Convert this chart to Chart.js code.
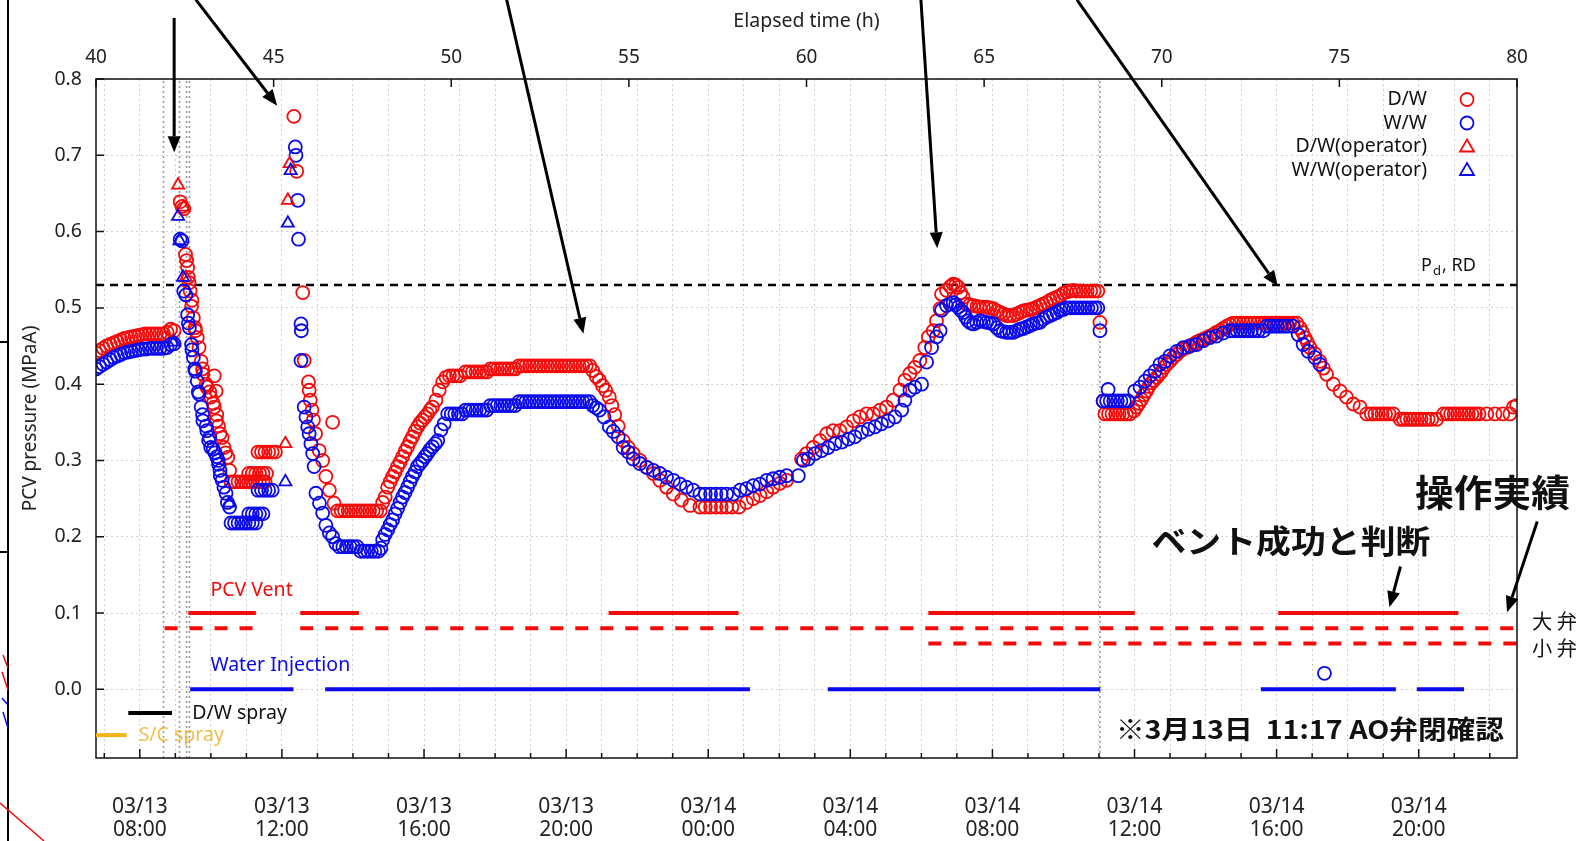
<!DOCTYPE html>
<html>
<head>
<meta charset="utf-8">
<script src="https://cdn.jsdelivr.net/npm/chart.js@4.4.1/dist/chart.umd.min.js"></script>
<style>
  html, body { margin: 0; padding: 0; background: #fff; overflow: hidden; }
  #c { display: block; }
</style>
</head>
<body>
<canvas id="c" width="1588" height="841" style="width:1588px;height:841px"></canvas>
<script>
// elapsed time (h), PCV pressure (MPaA)
const dwCircles = [
  [40.0,0.441],[40.1,0.444],[40.2,0.447],[40.3,0.45],[40.4,0.452],[40.5,0.454],[40.6,0.456],[40.7,0.458],[40.8,0.46],[40.9,0.461],
  [41.0,0.462],[41.1,0.463],[41.2,0.464],[41.3,0.465],[41.4,0.466],[41.5,0.466],[41.6,0.466],[41.7,0.466],[41.8,0.466],[41.9,0.466],
  [42.0,0.468],[42.1,0.472],[42.2,0.47],
  [42.37,0.639],[42.42,0.633],[42.47,0.63],[42.52,0.57],[42.55,0.562],[42.58,0.553],[42.6,0.54],[42.62,0.533],[42.65,0.522],
  [42.69,0.502],[42.7,0.51],[42.74,0.487],[42.79,0.474],[42.8,0.47],[42.85,0.461],[42.9,0.448],[42.96,0.43],[43.0,0.42],[43.01,0.413],
  [43.1,0.4],[43.12,0.396],[43.2,0.39],[43.23,0.383],[43.3,0.375],[43.33,0.37],[43.33,0.411],[43.38,0.391],[43.39,0.352],[43.4,0.36],
  [43.45,0.345],[43.49,0.335],[43.55,0.33],[43.6,0.317],[43.65,0.31],[43.71,0.304],[43.76,0.287],
  [43.8,0.272],[43.9,0.272],[44.0,0.272],[44.1,0.272],[44.2,0.272],[44.3,0.272],[44.4,0.272],[44.5,0.272],[44.6,0.272],[44.7,0.272],[44.76,0.272],
  [44.3,0.283],[44.4,0.283],[44.5,0.283],[44.6,0.283],[44.7,0.283],[44.8,0.283],
  [44.56,0.311],[44.66,0.311],[44.76,0.311],[44.86,0.311],[44.96,0.311],[45.05,0.311],
  [45.57,0.751],[45.65,0.679],[45.82,0.52],[45.86,0.431],[45.98,0.403],[46.0,0.392],[46.03,0.379],[46.08,0.366],[46.12,0.353],
  [46.18,0.335],[46.28,0.313],[46.38,0.3],[46.47,0.279],[46.57,0.261],[46.66,0.35],[46.7,0.244],
  [46.8,0.234],[46.9,0.234],[47.0,0.234],[47.1,0.234],[47.2,0.234],[47.3,0.234],[47.4,0.234],[47.5,0.234],[47.6,0.234],[47.7,0.234],
  [47.8,0.234],[47.9,0.234],[48.0,0.234],
  [48.07,0.245],[48.14,0.252],[48.21,0.265],[48.28,0.272],[48.35,0.279],[48.42,0.285],[48.49,0.292],[48.56,0.298],[48.63,0.305],
  [48.7,0.312],[48.77,0.318],[48.84,0.325],[48.91,0.331],[48.98,0.338],[49.05,0.344],[49.12,0.349],[49.19,0.353],[49.26,0.357],
  [49.33,0.361],[49.4,0.366],[49.47,0.37],[49.57,0.379],[49.66,0.392],[49.76,0.403],[49.85,0.409],
  [49.95,0.411],[50.05,0.411],[50.15,0.411],[50.25,0.411],
  [50.4,0.416],[50.5,0.416],[50.6,0.416],[50.7,0.416],[50.8,0.416],[50.9,0.416],[51.0,0.416],
  [51.1,0.42],[51.2,0.42],[51.3,0.42],[51.4,0.42],[51.5,0.42],[51.6,0.42],[51.7,0.42],[51.8,0.42],
  [51.9,0.424],[52.0,0.424],[52.1,0.424],[52.2,0.424],[52.3,0.424],[52.4,0.424],[52.5,0.424],[52.6,0.424],[52.7,0.424],[52.8,0.424],
  [52.9,0.424],[53.0,0.424],[53.1,0.424],[53.2,0.424],[53.3,0.424],[53.4,0.424],[53.5,0.424],[53.6,0.424],[53.7,0.424],[53.8,0.424],[53.9,0.424],
  [53.98,0.418],[54.08,0.41],[54.17,0.405],[54.26,0.398],[54.35,0.392],[54.45,0.383],[54.52,0.372],[54.6,0.36],[54.7,0.345],
  [54.84,0.326],[54.98,0.317],[55.12,0.309],[55.31,0.3],[55.5,0.291],[55.69,0.283],[55.87,0.274],[56.06,0.265],[56.25,0.256],
  [56.48,0.248],[56.72,0.241],[57.0,0.239],[57.15,0.239],[57.3,0.239],[57.45,0.239],[57.6,0.239],[57.75,0.239],[57.9,0.239],[58.1,0.239],
  [58.31,0.245],[58.5,0.25],[58.69,0.254],[58.88,0.259],[59.06,0.265],[59.25,0.27],[59.44,0.274],
  [59.86,0.302],[60.0,0.309],[60.19,0.317],[60.38,0.326],[60.57,0.335],[60.75,0.339],[60.94,0.339],[61.13,0.344],[61.32,0.352],
  [61.5,0.357],[61.69,0.361],[61.88,0.361],[62.07,0.366],[62.25,0.37],[62.44,0.379],[62.63,0.392],[62.77,0.405],[62.91,0.414],
  [63.05,0.422],[63.19,0.431],[63.33,0.448],[63.43,0.462],[63.57,0.47],[63.66,0.483],[63.76,0.499],[63.8,0.518],[63.94,0.523],
  [64.05,0.528],[64.13,0.531],[64.2,0.53],[64.27,0.527],[64.34,0.52],[64.41,0.514],[64.51,0.505],[64.6,0.504],[64.7,0.503],
  [64.8,0.502],[64.88,0.501],[64.98,0.501],[65.07,0.501],[65.16,0.5],[65.26,0.499],[65.36,0.496],[65.45,0.494],[65.54,0.492],
  [65.63,0.49],[65.72,0.49],[65.82,0.49],[65.92,0.492],[66.01,0.494],[66.1,0.496],[66.2,0.497],[66.3,0.498],[66.38,0.499],
  [66.48,0.501],[66.57,0.503],[66.66,0.505],[66.76,0.507],[66.86,0.51],[66.95,0.512],[67.05,0.514],[67.14,0.516],[67.23,0.519],
  [67.32,0.521],[67.42,0.522],[67.51,0.523],[67.6,0.522],[67.7,0.522],[67.8,0.522],[67.9,0.522],[68.0,0.522],[68.1,0.522],[68.2,0.522],
  [68.26,0.481],
  [68.35,0.378],[68.4,0.361],[68.5,0.361],[68.6,0.361],[68.7,0.361],[68.8,0.361],[68.9,0.361],[69.0,0.361],[69.1,0.361],
  [69.22,0.365],[69.29,0.37],[69.36,0.375],[69.43,0.38],[69.5,0.386],[69.57,0.391],[69.64,0.397],[69.71,0.402],[69.78,0.405],
  [69.86,0.409],[69.93,0.413],[70.0,0.417],[70.07,0.422],[70.14,0.426],[70.23,0.43],[70.32,0.435],[70.42,0.439],[70.51,0.443],
  [70.6,0.446],[70.7,0.448],[70.8,0.45],[70.89,0.452],[70.98,0.455],[71.07,0.457],[71.17,0.459],[71.26,0.461],[71.36,0.463],
  [71.45,0.465],[71.54,0.468],[71.64,0.47],[71.73,0.473],[71.83,0.476],[71.92,0.478],[72.01,0.48],
  [72.1,0.48],[72.2,0.48],[72.3,0.48],[72.4,0.48],[72.5,0.48],[72.6,0.48],[72.7,0.48],[72.8,0.48],[72.9,0.48],[73.0,0.48],
  [73.1,0.48],[73.2,0.48],[73.3,0.48],[73.4,0.48],[73.5,0.48],[73.6,0.48],[73.7,0.48],[73.8,0.48],
  [73.89,0.474],[73.96,0.468],[74.03,0.461],[74.1,0.455],[74.17,0.448],[74.31,0.44],[74.45,0.43],[74.55,0.421],[74.64,0.413],
  [74.83,0.4],[75.02,0.391],[75.2,0.383],[75.39,0.374],[75.58,0.37],[75.77,0.361],[75.9,0.361],[76.0,0.361],[76.1,0.361],
  [76.2,0.361],[76.3,0.361],[76.4,0.361],[76.52,0.361],[76.71,0.354],[76.8,0.354],[76.9,0.354],[77.0,0.354],[77.1,0.354],
  [77.2,0.354],[77.3,0.354],[77.4,0.354],[77.5,0.354],[77.6,0.354],[77.74,0.354],[77.93,0.361],[78.03,0.361],[78.13,0.361],
  [78.23,0.361],[78.33,0.361],[78.43,0.361],[78.53,0.361],[78.63,0.361],[78.73,0.361],[78.83,0.361],[78.93,0.361],[79.15,0.361],
  [79.38,0.361],[79.6,0.361],[79.8,0.361],[79.9,0.37],[79.99,0.372]
];
const wwCircles = [
  [40.0,0.42],[40.1,0.423],[40.2,0.426],[40.3,0.429],[40.4,0.432],[40.5,0.435],[40.6,0.437],[40.7,0.439],[40.8,0.441],[40.9,0.442],
  [41.0,0.443],[41.1,0.444],[41.2,0.445],[41.3,0.446],[41.4,0.446],[41.5,0.447],[41.6,0.447],[41.7,0.447],[41.8,0.447],[41.9,0.447],
  [42.0,0.448],[42.1,0.452],[42.2,0.453],
  [42.37,0.59],[42.42,0.588],[42.47,0.522],[42.53,0.517],[42.58,0.491],[42.6,0.48],[42.63,0.474],[42.69,0.452],[42.7,0.445],
  [42.74,0.435],[42.78,0.42],[42.8,0.417],[42.85,0.404],[42.88,0.39],[42.9,0.387],[42.96,0.37],[43.0,0.36],[43.01,0.352],
  [43.1,0.345],[43.12,0.339],[43.17,0.326],[43.2,0.33],[43.23,0.317],[43.3,0.315],[43.35,0.31],[43.4,0.305],[43.44,0.3],
  [43.45,0.295],[43.49,0.287],[43.5,0.28],[43.55,0.274],[43.6,0.265],[43.66,0.257],[43.7,0.245],[43.76,0.239],
  [43.8,0.218],[43.9,0.218],[44.0,0.218],[44.1,0.218],[44.2,0.218],[44.3,0.218],[44.4,0.218],[44.5,0.218],
  [44.3,0.23],[44.4,0.23],[44.5,0.23],[44.6,0.23],[44.7,0.23],
  [44.56,0.261],[44.66,0.261],[44.76,0.261],[44.86,0.261],[44.96,0.261],
  [45.61,0.711],[45.63,0.7],[45.68,0.641],[45.7,0.59],[45.77,0.479],[45.78,0.47],[45.77,0.431],[45.86,0.37],[45.91,0.357],
  [45.96,0.344],[46.0,0.335],[46.05,0.322],[46.1,0.309],[46.14,0.292],[46.19,0.257],[46.29,0.244],[46.38,0.231],[46.47,0.215],
  [46.57,0.205],[46.66,0.2],[46.75,0.191],
  [46.85,0.187],[46.95,0.187],[47.05,0.187],[47.15,0.187],[47.25,0.187],[47.35,0.187],
  [47.45,0.181],[47.55,0.181],[47.65,0.181],[47.75,0.181],[47.85,0.181],[47.95,0.181],[48.02,0.185],
  [48.07,0.196],[48.14,0.203],[48.21,0.209],[48.28,0.216],[48.35,0.222],[48.42,0.23],[48.49,0.237],[48.56,0.245],[48.63,0.252],
  [48.7,0.258],[48.77,0.265],[48.84,0.272],[48.91,0.279],[48.98,0.285],[49.05,0.292],[49.12,0.296],[49.19,0.3],[49.26,0.305],
  [49.33,0.309],[49.4,0.314],[49.47,0.318],[49.55,0.322],[49.62,0.326],[49.71,0.34],[49.8,0.348],[49.9,0.361],
  [50.0,0.361],[50.1,0.361],[50.2,0.361],[50.3,0.361],
  [50.4,0.366],[50.5,0.366],[50.6,0.366],[50.7,0.366],[50.8,0.366],[50.9,0.366],[51.0,0.366],
  [51.1,0.372],[51.2,0.372],[51.3,0.372],[51.4,0.372],[51.5,0.372],[51.6,0.372],[51.7,0.372],[51.8,0.372],
  [51.9,0.377],[52.0,0.377],[52.1,0.377],[52.2,0.377],[52.3,0.377],[52.4,0.377],[52.5,0.377],[52.6,0.377],[52.7,0.377],[52.8,0.377],
  [52.9,0.377],[53.0,0.377],[53.1,0.377],[53.2,0.377],[53.3,0.377],[53.4,0.377],[53.5,0.377],[53.6,0.377],[53.7,0.377],[53.8,0.377],[53.9,0.377],
  [53.98,0.372],[54.08,0.369],[54.17,0.366],[54.3,0.357],[54.45,0.344],[54.56,0.338],[54.7,0.331],[54.84,0.317],[54.98,0.311],
  [55.12,0.302],[55.31,0.296],[55.5,0.291],[55.69,0.287],[55.87,0.283],[56.06,0.278],[56.25,0.274],[56.44,0.269],[56.62,0.265],
  [56.81,0.261],[57.0,0.256],[57.15,0.256],[57.3,0.256],[57.45,0.256],[57.6,0.256],[57.75,0.256],[57.94,0.256],
  [58.13,0.261],[58.31,0.263],[58.5,0.267],[58.69,0.269],[58.88,0.274],[59.06,0.276],[59.25,0.278],[59.44,0.28],[59.77,0.28],
  [59.91,0.3],[60.05,0.302],[60.24,0.309],[60.43,0.313],[60.61,0.317],[60.8,0.322],[60.99,0.324],[61.18,0.328],[61.36,0.331],
  [61.55,0.337],[61.74,0.341],[61.93,0.344],[62.11,0.348],[62.3,0.352],[62.49,0.357],[62.68,0.366],[62.77,0.379],[62.91,0.392],
  [63.05,0.396],[63.24,0.4],[63.38,0.429],[63.52,0.448],[63.66,0.462],[63.76,0.47],[63.8,0.497],[63.94,0.503],[64.04,0.505],
  [64.13,0.507],[64.2,0.504],[64.27,0.501],[64.34,0.497],[64.41,0.494],[64.48,0.488],[64.55,0.483],[64.62,0.48],[64.7,0.479],
  [64.79,0.481],[64.88,0.483],[64.98,0.482],[65.07,0.481],[65.16,0.48],[65.26,0.479],[65.36,0.474],[65.45,0.47],[65.54,0.469],
  [65.63,0.468],[65.72,0.468],[65.82,0.468],[65.92,0.47],[66.01,0.472],[66.1,0.473],[66.2,0.475],[66.3,0.477],[66.38,0.479],
  [66.48,0.48],[66.57,0.481],[66.66,0.485],[66.76,0.488],[66.86,0.49],[66.95,0.492],[67.05,0.494],[67.14,0.497],[67.23,0.498],
  [67.32,0.5],[67.42,0.5],[67.52,0.5],[67.62,0.5],[67.72,0.5],[67.82,0.5],[67.92,0.5],[68.02,0.5],[68.12,0.5],[68.2,0.5],
  [68.26,0.47],
  [68.35,0.378],[68.49,0.393],[68.45,0.378],[68.55,0.378],[68.65,0.378],[68.75,0.378],[68.85,0.378],[68.95,0.378],[69.05,0.378],
  [69.24,0.391],[69.39,0.396],[69.53,0.404],[69.67,0.411],[69.81,0.417],[69.95,0.426],[70.09,0.43],[70.23,0.437],[70.42,0.443],
  [70.61,0.448],[70.79,0.45],[70.98,0.452],[71.17,0.457],[71.36,0.461],[71.54,0.463],[71.73,0.467],[71.92,0.47],
  [72.02,0.47],[72.12,0.47],[72.22,0.47],[72.32,0.47],[72.42,0.47],[72.52,0.47],[72.62,0.47],[72.72,0.47],[72.86,0.47],
  [72.95,0.476],[73.05,0.476],[73.15,0.476],[73.25,0.476],[73.35,0.476],[73.45,0.476],[73.55,0.476],[73.7,0.476],
  [73.84,0.465],[73.98,0.452],[74.12,0.443],[74.31,0.435],[74.45,0.426],
  [74.58,0.021]
];
const dwOperator = [[42.31,0.661],[42.47,0.632],[42.53,0.54],[45.33,0.322],[45.4,0.641],[45.45,0.689]];
const wwOperator = [[42.2,0.455],[42.31,0.62],[42.35,0.588],[42.45,0.54],[43.75,0.244],[45.33,0.272],[45.4,0.611],[45.48,0.68]];

// operation periods (h)
const pcvVent = [[42.6,44.5],[45.75,47.4],[54.43,58.09],[63.43,69.24],[73.28,78.35]];
const largeValve = [[41.93,44.45],[45.75,80]];
const smallValve = [[63.43,80]];
const waterInjection = [[42.65,45.56],[46.45,58.41],[60.6,68.27],[72.79,76.59],[77.18,78.51]];
const eventLines = [41.9, 42.35, 42.55, 42.63, 68.26];
const PD_RD = 0.53;

const topTicks = [40, 45, 50, 55, 60, 65, 70, 75, 80];
const yTicks = [0, 0.1, 0.2, 0.3, 0.4, 0.5, 0.6, 0.7, 0.8];
// elapsed 40 h = 03/13 06:46, so full clock hours sit 14 min later
const HOUR_OFFSET = 14 / 60;
const dateTicks = [
  [41.2333, '03/13', '08:00'], [45.2333, '03/13', '12:00'], [49.2333, '03/13', '16:00'], [53.2333, '03/13', '20:00'],
  [57.2333, '03/14', '00:00'], [61.2333, '03/14', '04:00'], [65.2333, '03/14', '08:00'], [69.2333, '03/14', '12:00'],
  [73.2333, '03/14', '16:00'], [77.2333, '03/14', '20:00']
];

const RED = 'rgb(245,10,10)';
const BLUE = 'rgb(10,10,235)';
const FONT = "'Noto Sans', 'DejaVu Sans', sans-serif";
const JP = "'Noto Sans CJK JP', sans-serif";

const hourTicks = [];
for (let h = 40 + HOUR_OFFSET; h < 80; h += 1) hourTicks.push(+h.toFixed(4));

function pts(a) { return a.map(([x, y]) => ({ x: x, y: y })); }

function segments(list, y, color, dash, width, order) {
  return list.map(([a, b]) => ({
    type: 'line', data: [{ x: a, y: y }, { x: b, y: y }],
    borderColor: color, borderWidth: width, borderDash: dash, borderCapStyle: 'butt',
    pointRadius: 0, showLine: true, order: order
  }));
}

const datasets = [];
datasets.push({ label: 'W/W', data: pts(wwCircles), pointStyle: 'circle', pointRadius: 6.5, pointBorderWidth: 1.8,
  borderColor: BLUE, backgroundColor: 'rgba(0,0,0,0)', order: 1 });
datasets.push({ label: 'D/W', data: pts(dwCircles), pointStyle: 'circle', pointRadius: 6.5, pointBorderWidth: 1.8,
  borderColor: RED, backgroundColor: 'rgba(0,0,0,0)', order: 2 });
datasets.push({ label: 'W/W(operator)', data: pts(wwOperator), pointStyle: 'triangle', pointRadius: 7, pointBorderWidth: 1.8,
  borderColor: BLUE, backgroundColor: 'rgba(0,0,0,0)', order: 0 });
datasets.push({ label: 'D/W(operator)', data: pts(dwOperator), pointStyle: 'triangle', pointRadius: 7, pointBorderWidth: 1.8,
  borderColor: RED, backgroundColor: 'rgba(0,0,0,0)', order: 0 });
segments(pcvVent, 0.1, RED, [], 4, 5).forEach(d => datasets.push(d));
segments(largeValve, 0.08, RED, [13, 12], 4, 5).forEach(d => datasets.push(d));
segments(smallValve, 0.06, RED, [13, 12], 4, 5).forEach(d => datasets.push(d));
segments(waterInjection, 0, BLUE, [], 4, 5).forEach(d => datasets.push(d));
segments([[40, 80]], PD_RD, '#000', [8, 6], 2.4, 6).forEach(d => datasets.push(d));
eventLines.forEach(h => datasets.push({
  type: 'line', data: [{ x: h, y: -0.09 }, { x: h, y: 0.8 }], borderColor: '#9a9a9a', borderWidth: 1.6,
  borderDash: [2, 3], pointRadius: 0, showLine: true, order: 7
}));

function arrow(ctx, x1, y1, x2, y2) {
  const ang = Math.atan2(y2 - y1, x2 - x1);
  const L = 16, W = 6.5;
  const bx = x2 - L * Math.cos(ang), by = y2 - L * Math.sin(ang);
  ctx.beginPath(); ctx.moveTo(x1, y1); ctx.lineTo(bx, by); ctx.stroke();
  ctx.beginPath();
  ctx.moveTo(x2, y2);
  ctx.lineTo(bx + W * Math.sin(ang), by - W * Math.cos(ang));
  ctx.lineTo(bx - W * Math.sin(ang), by + W * Math.cos(ang));
  ctx.closePath(); ctx.fill();
}

function fitText(ctx, text, x, y, width) {
  const w = ctx.measureText(text).width;
  ctx.save();
  ctx.translate(x, y);
  if (width) ctx.scale(width / w, 1);
  ctx.fillText(text, 0, 0);
  ctx.restore();
}

const decor = {
  id: 'decor',
  afterDatasetsDraw(chart) {
    const ctx = chart.ctx, a = chart.chartArea;
    const xs = chart.scales.x, ys = chart.scales.y;
    const X = h => xs.getPixelForValue(h), Y = p => ys.getPixelForValue(p);
    ctx.save();

    // frame and inner ticks
    ctx.strokeStyle = '#111'; ctx.lineWidth = 1.5;
    ctx.strokeRect(a.left, a.top, a.right - a.left, a.bottom - a.top);
    ctx.beginPath();
    hourTicks.forEach(h => {
      const major = dateTicks.some(d => Math.abs(d[0] - h) < 0.01);
      ctx.moveTo(X(h), a.bottom); ctx.lineTo(X(h), a.bottom - (major ? 9 : 5));
    });
    topTicks.forEach(h => { ctx.moveTo(X(h), a.top); ctx.lineTo(X(h), a.top + 8); });
    yTicks.forEach(p => { ctx.moveTo(a.left, Y(p)); ctx.lineTo(a.left + 8, Y(p)); });
    ctx.stroke();

    // legend (top right)
    const legend = [['D/W', RED, 'c'], ['W/W', BLUE, 'c'], ['D/W(operator)', RED, 't'], ['W/W(operator)', BLUE, 't']];
    ctx.font = '19.5px ' + FONT; ctx.textAlign = 'right'; ctx.textBaseline = 'middle'; ctx.fillStyle = '#111';
    legend.forEach(([t, c, s], i) => {
      const y = 99.5 + i * 23.5;
      ctx.fillStyle = '#111'; ctx.fillText(t, 1427, y);
      ctx.strokeStyle = c; ctx.lineWidth = 1.8; ctx.beginPath();
      if (s === 'c') ctx.arc(1467, y, 6.5, 0, Math.PI * 2);
      else { ctx.moveTo(1467, y - 7); ctx.lineTo(1474, y + 5); ctx.lineTo(1460, y + 5); ctx.closePath(); }
      ctx.stroke();
    });

    // Pd, RD
    ctx.textAlign = 'left'; ctx.textBaseline = 'alphabetic'; ctx.fillStyle = '#111';
    ctx.font = '18px ' + FONT; ctx.fillText('P', 1421, 271);
    ctx.font = '13px ' + FONT; ctx.fillText('d', 1433, 275);
    ctx.font = '18px ' + FONT; ctx.fillText(', RD', 1442, 271);

    // operation labels
    ctx.textBaseline = 'middle';
    ctx.font = '19.5px ' + FONT;
    ctx.fillStyle = RED; ctx.fillText('PCV Vent', X(43.22), Y(0.13));
    ctx.fillStyle = BLUE; ctx.fillText('Water Injection', X(43.22), Y(0.031));
    ctx.fillStyle = '#111'; ctx.fillText('D/W spray', X(42.71), Y(-0.031));
    ctx.fillStyle = 'rgba(240,175,30,0.8)'; ctx.fillText('S/C spray', X(41.2), Y(-0.06));
    ctx.lineWidth = 4;
    ctx.strokeStyle = '#000'; ctx.beginPath(); ctx.moveTo(X(40.91), Y(-0.031)); ctx.lineTo(X(42.14), Y(-0.031)); ctx.stroke();
    ctx.strokeStyle = 'rgb(245,180,20)'; ctx.beginPath(); ctx.moveTo(X(40.0), Y(-0.06)); ctx.lineTo(X(40.86), Y(-0.06)); ctx.stroke();

    // Japanese annotations
    ctx.fillStyle = '#111';
    ctx.font = 'bold 37px ' + JP; fitText(ctx, '操作実績', X(77.13), Y(0.2577), 155);
    ctx.font = 'bold 32px ' + JP; fitText(ctx, 'ベント成功と判断', X(69.71), Y(0.1948), 279);
    ctx.font = 'bold 26px ' + JP; fitText(ctx, '※3月13日  11:17 AO弁閉確認', X(68.71), Y(-0.0515), 388);
    ctx.font = '20px ' + JP; fitText(ctx, '大 弁', X(80.42), Y(0.0895), 45);
    fitText(ctx, '小 弁', X(80.42), Y(0.0543), 45);

    // arrows
    ctx.strokeStyle = '#000'; ctx.fillStyle = '#000'; ctx.lineWidth = 3;
    const arrows = [
      [42.2, 0.88, 42.2, 0.704], [42.81, 0.904, 45.1, 0.765], [51.56, 0.904, 53.72, 0.466],
      [63.22, 0.904, 63.68, 0.578], [67.61, 0.904, 73.27, 0.528], [76.72, 0.161, 76.41, 0.1075],
      [80.57, 0.22, 79.72, 0.101]
    ];
    arrows.forEach(([h1, p1, h2, p2]) => arrow(ctx, X(h1), Y(p1), X(h2), Y(p2)));

    // neighbouring figure's edge on the far left
    ctx.strokeStyle = '#000'; ctx.lineWidth = 2;
    ctx.beginPath(); ctx.moveTo(8, 0); ctx.lineTo(8, 841);
    ctx.moveTo(0, 342); ctx.lineTo(8, 342); ctx.moveTo(0, 552); ctx.lineTo(8, 552); ctx.stroke();
    ctx.strokeStyle = RED; ctx.lineWidth = 1.5;
    ctx.beginPath(); ctx.moveTo(0, 803); ctx.lineTo(44, 841); ctx.stroke();
    ctx.beginPath(); ctx.moveTo(3, 655); ctx.lineTo(8, 668); ctx.moveTo(2, 672); ctx.lineTo(8, 690); ctx.stroke();
    ctx.strokeStyle = BLUE;
    ctx.beginPath(); ctx.moveTo(2, 698); ctx.lineTo(8, 705); ctx.moveTo(3, 712); ctx.lineTo(8, 728); ctx.stroke();
    ctx.restore();
  }
};

const whiteBg = {
  id: 'whiteBg',
  beforeDraw(chart) {
    const ctx = chart.ctx;
    ctx.save(); ctx.fillStyle = '#fff'; ctx.fillRect(0, 0, chart.width, chart.height); ctx.restore();
  }
};

new Chart(document.getElementById('c'), {
  type: 'scatter',
  data: { datasets: datasets },
  options: {
    responsive: false,
    animation: false,
    devicePixelRatio: 1,
    layout: { padding: { left: 0, right: 71, top: 0, bottom: 0 } },
    plugins: { legend: { display: false }, tooltip: { enabled: false } },
    scales: {
      x: {
        type: 'linear', position: 'bottom', min: 40, max: 80,
        afterBuildTicks: s => { s.ticks = hourTicks.map(v => ({ value: v })); },
        afterFit: s => { s.height = 83; },
        grid: { color: '#cfcfcf', lineWidth: 1, drawTicks: false },
        border: { display: false, dash: [2, 3] },
        ticks: {
          autoSkip: false, maxRotation: 0, padding: 37, color: '#222',
          font: { family: FONT, size: 21, lineHeight: 1.1 },
          callback: v => { const d = dateTicks.find(t => Math.abs(t[0] - v) < 0.01); return d ? [d[1], d[2]] : ''; }
        }
      },
      xTop: {
        type: 'linear', position: 'top', min: 40, max: 80,
        afterBuildTicks: s => { s.ticks = topTicks.map(v => ({ value: v })); },
        afterFit: s => { s.height = 79; },
        grid: { display: false, drawTicks: false },
        border: { display: false },
        ticks: { padding: 10, color: '#222', font: { family: FONT, size: 19 } },
        title: { display: true, text: 'Elapsed time (h)', color: '#222', font: { family: FONT, size: 19.5 }, padding: { top: 10, bottom: 0 } }
      },
      y: {
        type: 'linear', position: 'left', min: -0.09, max: 0.8,
        afterBuildTicks: s => { s.ticks = yTicks.map(v => ({ value: v })); },
        afterFit: s => { s.width = 96; },
        grid: { color: '#cfcfcf', lineWidth: 1, drawTicks: false },
        border: { display: false, dash: [2, 3] },
        ticks: { padding: 14, color: '#222', font: { family: FONT, size: 19.5 }, callback: v => v.toFixed(1) },
        title: { display: true, text: 'PCV pressure (MPaA)', color: '#222', font: { family: FONT, size: 19 }, padding: { top: 19, bottom: 0 } }
      }
    }
  },
  plugins: [whiteBg, decor]
});
</script>
</body>
</html>
